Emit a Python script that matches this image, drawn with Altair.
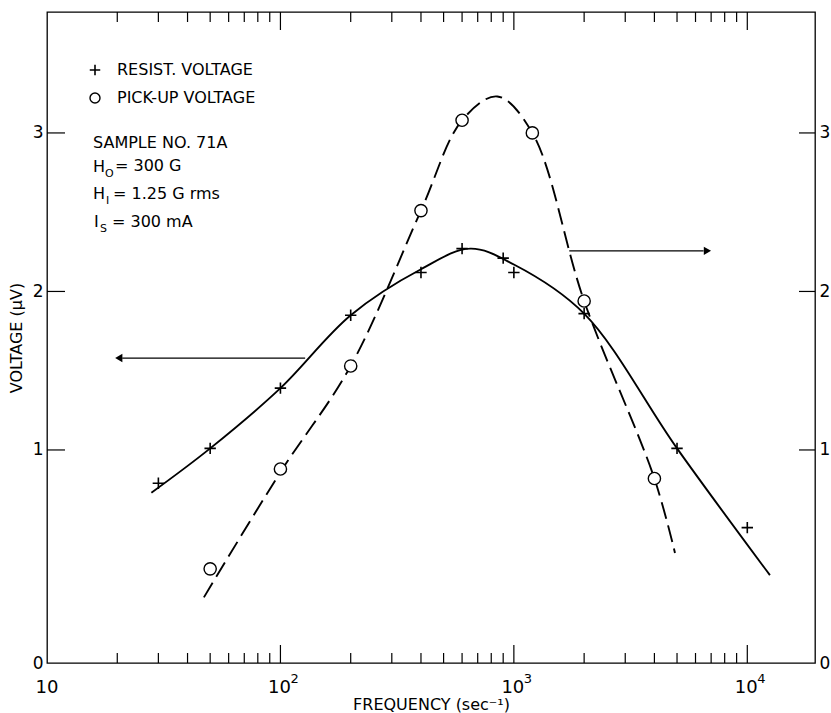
import altair as alt
import pandas as pd

# ---------------- data ----------------
resist_freq = [30, 50, 100, 200, 400, 600, 900, 1000, 2000, 5000, 10000]
resist_volt = [0.79, 1.01, 1.39, 1.85, 2.12, 2.27, 2.21, 2.12, 1.86, 1.01, 0.51]

pickup_freq = [50, 100, 200, 400, 600, 1200, 2000, 4000]
pickup_volt = [0.25, 0.88, 1.53, 2.51, 3.08, 3.00, 1.94, 0.82]

resist_curve_freq = [28, 50, 100, 200, 400, 650, 1000, 2000, 5000, 12500]
resist_curve_volt = [0.73, 1.01, 1.39, 1.85, 2.14, 2.27, 2.17, 1.86, 1.01, 0.21]

pickup_curve_freq = [47, 100, 200, 400, 600, 850, 1200, 2000, 4000, 4900]
pickup_curve_volt = [0.07, 0.86, 1.53, 2.51, 3.08, 3.23, 3.00, 1.94, 0.82, 0.35]

major_ticks = [100, 1000, 10000]
minor_ticks = [20, 30, 40, 50, 60, 70, 80, 90,
               200, 300, 400, 500, 600, 700, 800, 900,
               2000, 3000, 4000, 5000, 6000, 7000, 8000, 9000]
y_ticks = [1, 2, 3]
x_label_first = [10]
x_label_pow = [100, 1000, 10000]
x_label_exp = ["2", "3", "4"]

# ---------------- geometry / style ----------------
W, H = 768, 651
Y_MIN, Y_MAX = -0.344, 3.763
FONT = "DejaVu Sans"

xscale = alt.Scale(type="log", domain=[10, 19500], nice=False)
yscale = alt.Scale(domain=[Y_MIN, Y_MAX], nice=False, zero=False)

X = alt.X("f:Q", scale=xscale, axis=alt.Axis(
    values=[10, 100, 1000, 10000], ticks=False, domain=False, grid=False, labels=False,
    title="FREQUENCY (sec⁻¹)", titleFontSize=16, titleFont=FONT,
    titleFontWeight="normal", titleColor="black", titlePadding=33))

y_axis_common = dict(values=[Y_MIN, 1, 2, 3], ticks=False, domain=False, grid=False,
                     labelExpr="datum.value < 0 ? '0' : format(datum.value, 'd')",
                     labelFontSize=17, labelFont=FONT, labelColor="black", labelPadding=4)
Y_left = alt.Y("v:Q", scale=yscale, axis=alt.Axis(
    orient="left", title="VOLTAGE (μV)", titleFontSize=16, titleFont=FONT,
    titleFontWeight="normal", titleColor="black", titlePadding=8, **y_axis_common))
Y_right = alt.Y("v:Q", scale=yscale, axis=alt.Axis(orient="right", title=None, **y_axis_common))
Y_none = alt.Y("v:Q", scale=yscale, axis=None)

PLUS = "M-1,0L1,0M0,-1L0,1"
layers = []

# curves
layers.append(alt.Chart(pd.DataFrame({"f": resist_curve_freq, "v": resist_curve_volt}))
              .mark_line(color="black", strokeWidth=1.9, interpolate="catmull-rom")
              .encode(x=X, y=Y_left))
layers.append(alt.Chart(pd.DataFrame({"f": pickup_curve_freq, "v": pickup_curve_volt}))
              .mark_line(color="black", strokeWidth=1.9, strokeDash=[17, 7], interpolate="catmull-rom")
              .encode(x=X, y=Y_right))

# markers
layers.append(alt.Chart(pd.DataFrame({"f": resist_freq, "v": resist_volt}))
              .mark_point(shape=PLUS, size=130, stroke="black",
                          strokeWidth=1.6, filled=False, opacity=1)
              .encode(x=X, y=Y_none))
layers.append(alt.Chart(pd.DataFrame({"f": pickup_freq, "v": pickup_volt}))
              .mark_point(shape="circle", size=150, stroke="black", fill="white",
                          strokeWidth=1.4, filled=False, opacity=1)
              .encode(x=X, y=Y_none))

# x tick marks (inward, bottom and top)
for vals, ln in [(minor_ticks, 10), (major_ticks, 18)]:
    d = pd.DataFrame({"f": vals})
    layers.append(alt.Chart(d).mark_rule(color="black", strokeWidth=1.2)
                  .encode(x=X, y=alt.value(H), y2=alt.value(H - ln)))
    layers.append(alt.Chart(d).mark_rule(color="black", strokeWidth=1.2)
                  .encode(x=X, y=alt.value(0), y2=alt.value(ln)))
# y tick marks (inward, left and right)
dy = pd.DataFrame({"v": y_ticks})
layers.append(alt.Chart(dy).mark_rule(color="black", strokeWidth=1.2)
              .encode(y=Y_none, x=alt.value(0), x2=alt.value(18)))
layers.append(alt.Chart(dy).mark_rule(color="black", strokeWidth=1.2)
              .encode(y=Y_none, x=alt.value(W - 16), x2=alt.value(W)))

# x tick labels: "10" and 10 with superscript exponents
layers.append(alt.Chart(pd.DataFrame({"f": x_label_first}))
              .mark_text(font=FONT, fontSize=18, color="black", baseline="middle", align="center")
              .encode(x=X, y=alt.value(H + 25), text=alt.value("10")))
xl = pd.DataFrame({"f": x_label_pow, "exp": x_label_exp})
layers.append(alt.Chart(xl).mark_text(font=FONT, fontSize=18, color="black", baseline="middle",
                                      align="center", dx=-1)
              .encode(x=X, y=alt.value(H + 25), text=alt.value("10")))
layers.append(alt.Chart(xl).mark_text(font=FONT, fontSize=13, color="black", baseline="middle",
                                      align="left", dx=10, dy=-9)
              .encode(x=X, y=alt.value(H + 25), text="exp:N"))

# arrows (annotation, data coordinates)
arrow_left = pd.DataFrame({"f": [127.6], "f2": [21.0], "v": [1.58]})
arrow_right = pd.DataFrame({"f": [1727.0], "f2": [6500.0], "v": [2.256]})
for d, head_f, shape in [(arrow_left, 20.3, "triangle-left"), (arrow_right, 6750.0, "triangle-right")]:
    layers.append(alt.Chart(d).mark_rule(color="black", strokeWidth=1.3)
                  .encode(x=X, x2="f2:Q", y=Y_none))
    layers.append(alt.Chart(pd.DataFrame({"f": [head_f], "v": d["v"]}))
                  .mark_point(shape=shape, size=70, filled=True, color="black", opacity=1)
                  .encode(x=X, y=Y_none))

# legend symbols (pixel positions)
layers.append(alt.Chart(pd.DataFrame({"a": [0]})).mark_point(
    shape=PLUS, size=110, stroke="black", strokeWidth=1.6, filled=False, opacity=1)
    .encode(x=alt.value(95 - 47), y=alt.value(70 - 12)))
layers.append(alt.Chart(pd.DataFrame({"a": [0]})).mark_point(
    shape="circle", size=100, stroke="black", strokeWidth=1.4, filled=False, opacity=1)
    .encode(x=alt.value(95 - 47), y=alt.value(98 - 12)))

# legend and annotation text (pixel positions)
texts = [
    ("RESIST. VOLTAGE", 117, 70, 16),
    ("PICK-UP VOLTAGE", 117, 98, 16),
    ("SAMPLE NO. 71A", 93, 143, 16),
    ("H", 93, 167, 16), ("O", 105, 174, 11), ("= 300 G", 115, 166, 16),
    ("H", 93, 194, 16), ("I", 106, 201, 11), ("= 1.25 G rms", 113, 194, 16),
    ("I", 94, 222, 16), ("S", 100, 229, 11), ("= 300 mA", 112, 222, 16),
]
for t, px, py, fs in texts:
    layers.append(alt.Chart(pd.DataFrame({"a": [0]})).mark_text(
        align="left", baseline="middle", font=FONT, fontSize=fs, color="black")
        .encode(x=alt.value(px - 47), y=alt.value(py - 12), text=alt.value(t)))

chart = alt.layer(*layers).resolve_axis(y="independent").properties(
    width=W, height=H,
    autosize=alt.AutoSizeParams(type="none"),
    padding={"left": 47, "top": 12, "right": 16, "bottom": 50},
    background="white",
).configure_view(stroke="black", strokeWidth=1.3)

chart.save("out.html", embed_options={"renderer": "svg", "actions": False})
